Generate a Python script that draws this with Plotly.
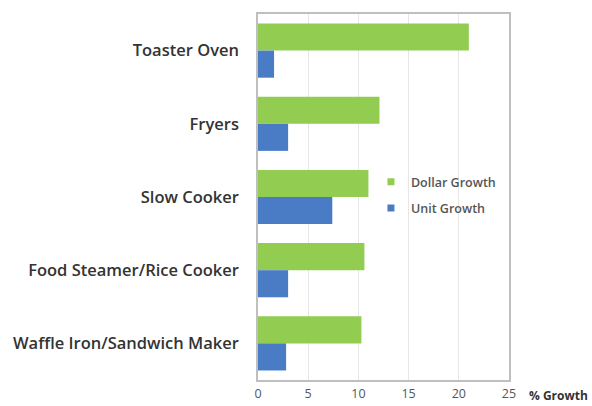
import plotly.graph_objects as go

categories = ["Toaster Oven", "Fryers", "Slow Cooker", "Food Steamer/Rice Cooker", "Waffle Iron/Sandwich Maker"]
dollar_growth = [21.0, 12.1, 11.0, 10.6, 10.3]
unit_growth = [1.6, 3.0, 7.4, 3.0, 2.8]
x_ticks = [0, 5, 10, 15, 20, 25]
series_names = ["Dollar Growth", "Unit Growth"]
series_colors = ["#92CD52", "#4A7CC5"]

fig = go.Figure()
for name, vals, col in zip(series_names, [dollar_growth, unit_growth], series_colors):
    fig.add_trace(go.Bar(y=categories, x=vals, orientation="h", name=name,
                         marker=dict(color=col, line=dict(width=0)), showlegend=False))
for name, col in zip(series_names, series_colors):
    fig.add_trace(go.Scatter(x=[None], y=[None], mode="markers", name=name, legendgroup=name,
                             marker=dict(symbol="square", size=7, color=col)))

fig.update_layout(
    width=592, height=406,
    margin=dict(l=258, r=83, t=14, b=26),
    barmode="group", bargap=0.26, bargroupgap=0,
    plot_bgcolor="white", paper_bgcolor="white",
    font=dict(family="Open Sans", color="#404040"),
    showlegend=True,
    legend=dict(x=0.45, y=0.505, xanchor="left", yanchor="middle",
                bgcolor="rgba(0,0,0,0)", font=dict(size=12.5, color="#555555", weight=600),
                itemwidth=30, tracegroupgap=7),
    xaxis=dict(range=[0, 25], tickvals=x_ticks, ticktext=[str(v) for v in x_ticks],
               showgrid=True, gridcolor="#E6E6E6", gridwidth=1,
               showline=True, linecolor="#BFBFBF", linewidth=1.5, mirror=True,
               zeroline=False, ticks="", ticklabelstandoff=1, automargin=False,
               tickfont=dict(size=12.5, color="#555555"), fixedrange=True),
    yaxis=dict(autorange="reversed", showline=True, linecolor="#BFBFBF", linewidth=1.5,
               mirror=True, ticks="", ticklabelstandoff=14, automargin=False,
               tickfont=dict(size=16.5, color="#333333", weight=600)),
    annotations=[dict(text="% Growth", xref="paper", yref="paper", x=1.07, y=0,
                      xanchor="left", yanchor="top", yshift=-5, showarrow=False,
                      font=dict(size=12, color="#333333", weight=700))],
)

fig.write_html("out.html")
